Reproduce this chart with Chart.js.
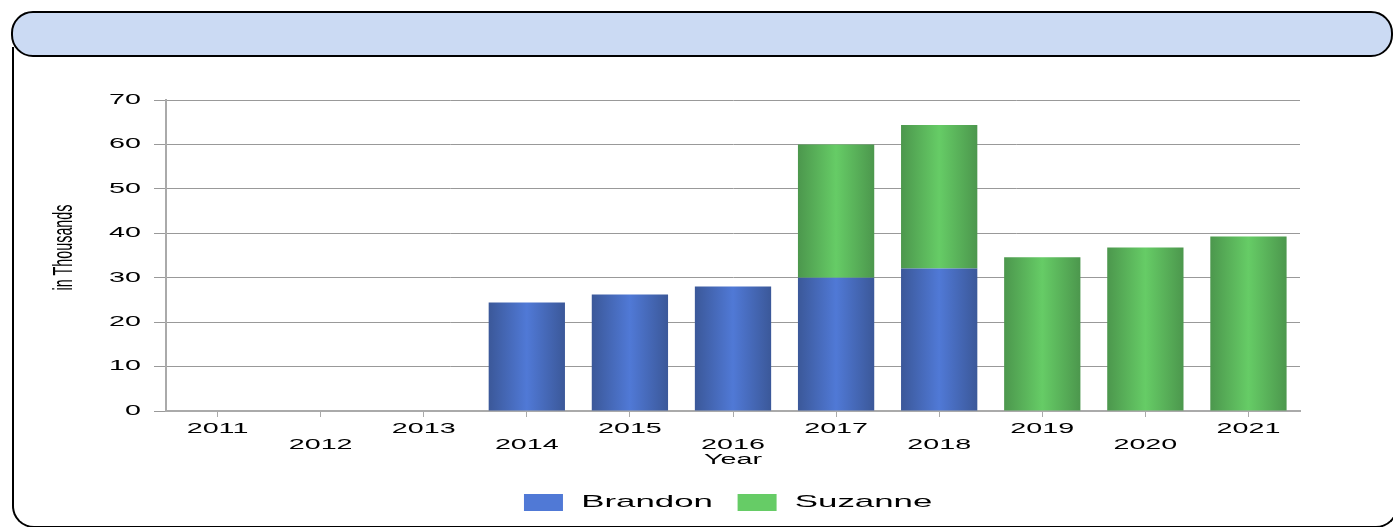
<!DOCTYPE html>
<html>
<head>
<meta charset="utf-8">
<script src="https://cdn.jsdelivr.net/npm/chart.js@4.4.1/dist/chart.umd.min.js"></script>
<style>
  html, body { margin: 0; padding: 0; background: #fff; }
  body { width: 1393px; height: 527px; position: relative; overflow: hidden; }
  #frame { position: absolute; left: 12px; top: 47px; width: 1386px; height: 481px; border: 2.5px solid #000; border-top: none; border-radius: 0 0 22px 22px; box-sizing: border-box; background: #fff; }
  #header { position: absolute; left: 11px; top: 11px; width: 1382px; height: 46px; background: #cbdaf3; border: 2.5px solid #000; border-radius: 22px; box-sizing: border-box; }
  #chart { position: absolute; left: 0; top: 0; }
</style>
</head>
<body>
<div id="frame"></div>
<div id="header"></div>
<canvas id="chart" width="1393" height="527"></canvas>
<script>
// data
let years = ["2011", "2012", "2013", "2014", "2015", "2016", "2017", "2018", "2019", "2020", "2021"];
let brandon = [null, null, null, 24.4, 26.2, 28.0, 30.0, 32.1, null, null, null];
let suzanne = [null, null, null, null, null, null, 30.0, 32.3, 34.6, 36.8, 39.3];
let yMax = 70;
let yStep = 10;

// light (middle) and dark (edge) colour of each series
let lightColors = ["#5079d6", "#66cc66"];
let darkColors = ["#3b5899", "#4c974d"];

let barPct = 0.74;

// x labels alternate between two rows
let xLabels = years.map((y, i) => i % 2 ? ["", y] : [y]);

// horizontal shading on each bar
function barFill(dark, light) {
  return function (c) {
    if (c.type !== "data") return light;
    let chart = c.chart;
    let xs = chart.scales.x;
    if (!xs || !chart.chartArea) return light;
    let cx = xs.getPixelForValue(c.dataIndex);
    let w = xs.width / years.length * barPct;
    let g = chart.ctx.createLinearGradient(cx - w / 2, 0, cx + w / 2, 0);
    g.addColorStop(0, dark);
    g.addColorStop(0.5, light);
    g.addColorStop(1, dark);
    return g;
  };
}

// the original text is stretched wide, the axis title squeezed
let canvas = document.getElementById("chart");
let ctx = canvas.getContext("2d");
ctx._sx = 2.05;
let rawFill = ctx.fillText.bind(ctx);
let rawMeasure = ctx.measureText.bind(ctx);
ctx.fillText = function (t, x, y, maxW) {
  let sx = ctx._sx;
  ctx.save();
  ctx.translate(x, y);
  ctx.scale(sx, 1);
  if (maxW !== undefined) rawFill(t, 0, 0, maxW / sx);
  else rawFill(t, 0, 0);
  ctx.restore();
};
ctx.measureText = function (t) {
  let m = rawMeasure(t);
  return {
    width: m.width * ctx._sx,
    actualBoundingBoxAscent: m.actualBoundingBoxAscent,
    actualBoundingBoxDescent: m.actualBoundingBoxDescent,
    actualBoundingBoxLeft: m.actualBoundingBoxLeft * ctx._sx,
    actualBoundingBoxRight: m.actualBoundingBoxRight * ctx._sx
  };
};

const squeezeTitle = {
  id: "squeezeTitle",
  beforeLayout(chart) {
    let ys = chart.scales.y;
    if (ys && !ys._sq) {
      let orig = ys.drawTitle;
      ys.drawTitle = function () {
        let old = ctx._sx;
        ctx._sx = 0.53;
        try { return orig.apply(this, arguments); } finally { ctx._sx = old; }
      };
      ys._sq = true;
    }
  }
};

Chart.defaults.font.family = "'Liberation Sans'";
Chart.defaults.color = "#000";

let baseLabels = Chart.defaults.plugins.legend.labels.generateLabels;

new Chart(ctx, {
  type: "bar",
  data: {
    labels: xLabels,
    datasets: [
      {
        label: "Brandon",
        data: brandon,
        backgroundColor: barFill(darkColors[0], lightColors[0]),
        barPercentage: barPct,
        categoryPercentage: 1.0
      },
      {
        label: "Suzanne",
        data: suzanne,
        backgroundColor: barFill(darkColors[1], lightColors[1]),
        barPercentage: barPct,
        categoryPercentage: 1.0
      }
    ]
  },
  options: {
    responsive: false,
    animation: false,
    devicePixelRatio: 1,
    layout: { padding: { left: 0, right: 93, top: 100, bottom: 6 } },
    plugins: {
      legend: {
        position: "bottom",
        fullSize: false,
        labels: {
          boxWidth: 39,
          boxHeight: 17,
          padding: 15,
          color: "#000",
          font: { size: 17 },
          generateLabels(chart) {
            return baseLabels(chart).map((l, i) => {
              l.text = " " + l.text + " ";
              l.fillStyle = lightColors[i];
              l.strokeStyle = lightColors[i];
              l.lineWidth = 0;
              return l;
            });
          }
        }
      },
      tooltip: { enabled: false }
    },
    scales: {
      x: {
        stacked: true,
        offset: true,
        grid: { display: true, drawOnChartArea: false, offset: false, tickLength: 6, color: "#aaa" },
        border: { color: "#aaa", width: 2 },
        ticks: { autoSkip: false, maxRotation: 0, padding: 4, color: "#000", font: { size: 14, lineHeight: 1.15 } },
        title: { display: true, text: "Year", color: "#000", font: { size: 14 }, padding: { top: 0, bottom: 10 } },
        afterFit(s) { s.height = 68; }
      },
      y: {
        stacked: true,
        min: 0,
        max: yMax,
        ticks: { stepSize: yStep, padding: 13, color: "#000", font: { size: 14 } },
        grid: { color: "#999", tickLength: 12, lineWidth: 1 },
        border: { color: "#aaa", width: 2 },
        title: {
          display: true,
          text: "    in Thousands",
          color: "#000",
          font: { size: 27 },
          padding: { top: 48, bottom: 0 }
        },
        afterFit(s) { s.width = 166; }
      }
    }
  },
  plugins: [squeezeTitle]
});
</script>
</body>
</html>
